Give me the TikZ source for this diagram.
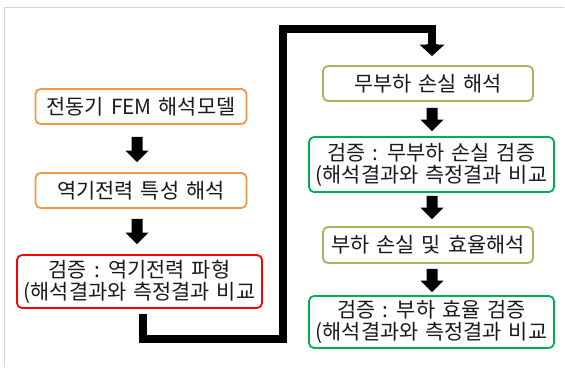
\documentclass[tikz,border=0pt]{standalone}
\usepackage{fontspec}
\setmainfont[WordSpace=1.5]{Noto Sans CJK KR}
\usetikzlibrary{calc}
\definecolor{borange}{HTML}{F79646}
\definecolor{bred}{HTML}{FF0000}
\definecolor{blgreen}{HTML}{9BBB59}
\definecolor{bgreen}{HTML}{00B050}
\definecolor{framegray}{HTML}{D4D4D4}
\newcommand\blkarrow[3]{% start, tip, half head width
  \fill let \p1=(#1), \p2=(#2) in
    (\x1-5.5pt,\y1) -- (\x1+5.5pt,\y1) -- (\x1+5.5pt,\y2+11.5pt) --
    (\x1+#3,\y2+11.5pt) -- (\x1,\y2) -- (\x1-#3,\y2+11.5pt) --
    (\x1-5.5pt,\y2+11.5pt) -- cycle;}
\begin{document}
\begin{tikzpicture}[x=1pt,y=-1pt,
  box/.style={draw, line width=1.8pt, rounded corners=5pt, inner sep=0pt,
    align=center, font=\fontsize{20.8}{22}\selectfont, text=black!90},
  onebox/.style={box, minimum width=211pt, minimum height=35pt},
  twobox/.style={box, minimum width=245pt, minimum height=53pt},
  conn/.style={line width=7.5pt, line join=miter}]
\useasboundingbox (0,0) rectangle (565,367);
\draw[framegray, line width=1pt] (4,367) -- (4,7) -- (564,7);

\node[onebox, draw=borange] (n1) at (141,106.5) {전동기 FEM 해석모델};
\node[onebox, draw=borange] (n2) at (141,190.5) {역기전력 특성 해석};
\node[twobox, draw=bred] (n3) at (139.5,281.5) {검증 : 역기전력 파형\\(해석결과와 측정결과 비교};
\node[onebox, minimum width=210pt, draw=blgreen] (n4) at (428,83.5) {무부하 손실 해석};
\node[twobox, draw=bgreen, minimum height=55pt] (n5) at (431.5,164.5) {검증 : 무부하 손실 검증\\(해석결과와 측정결과 비교};
\node[onebox, minimum width=210pt, minimum height=36pt, draw=blgreen] (n6) at (428,245) {부하 손실 및 효율해석};
\node[twobox, draw=bgreen, minimum height=52pt] (n7) at (431.5,322) {검증 : 부하 효율 검증\\(해석결과와 측정결과 비교};

\coordinate (a1s) at ($(n1.south)+(-4,12)$);
\coordinate (a1e) at ($(n2.north)+(-4,-10)$);
\coordinate (a2s) at ($(n2.south)+(-4,10)$);
\coordinate (a2e) at ($(n3.north)+(-2.5,-10)$);
\coordinate (a3s) at ($(n4.south)+(4,6)$);
\coordinate (a3e) at ($(n5.north)+(0.5,-5)$);
\coordinate (a4s) at ($(n5.south)+(0.5,3)$);
\coordinate (a4e) at ($(n6.north)+(4,-7)$);
\coordinate (a5s) at ($(n6.south)+(4,5)$);
\coordinate (a5e) at ($(n7.north)+(0.5,-3)$);
\blkarrow{a1s}{a1e}{11.5pt}
\blkarrow{a2s}{a2e}{11.5pt}
\blkarrow{a3s}{a3e}{11.5pt}
\blkarrow{a4s}{a4e}{11.5pt}
\blkarrow{a5s}{a5e}{11.5pt}

\coordinate (cs) at ($(n3.south)+(3.5,5)$);
\coordinate (c1) at (283,339);
\coordinate (c2) at (283,29);
\coordinate (c3) at (432,29);
\coordinate (ce) at ($(n4.north)+(4,-9)$);
\coordinate (cm) at ($(ce)+(0,-12)$);
\draw[conn] (cs) |- (c1) -- (c2) -- (c3) -- (cm);
\blkarrow{cm}{ce}{12.5pt}
\end{tikzpicture}
\end{document}
